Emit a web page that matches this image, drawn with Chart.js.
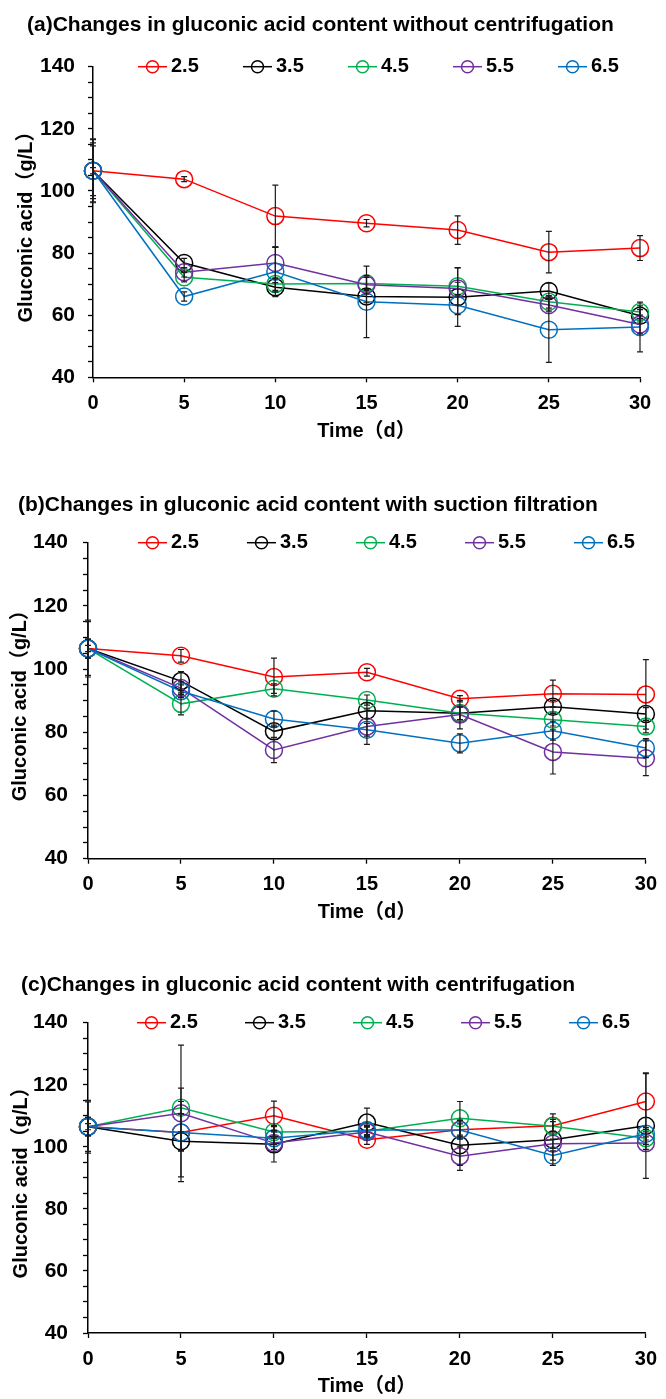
<!DOCTYPE html>
<html>
<head>
<meta charset="utf-8">
<script src="https://cdn.jsdelivr.net/npm/chart.js@4.4.1/dist/chart.umd.min.js"></script>
<style>
  html, body { margin: 0; padding: 0; background: #fff; width: 666px; height: 1399px; overflow: hidden; position: relative; }
  canvas { position: absolute; left: 0; }
  .ttl { position: absolute; font: bold 21px 'Liberation Sans', Arial, 'Noto Sans CJK SC', sans-serif; color: #000; white-space: nowrap; line-height: 24px; }
</style>
</head>
<body>
<canvas id="chart-a" width="666" height="460"></canvas>
<canvas id="chart-b" width="666" height="470"></canvas>
<canvas id="chart-c" width="666" height="470"></canvas>
<div class="ttl" style="left:27px;top:12px;">(a)Changes in gluconic acid content without centrifugation</div>
<div class="ttl" style="left:18px;top:492px;">(b)Changes in gluconic acid content with suction filtration</div>
<div class="ttl" style="left:21px;top:972px;">(c)Changes in gluconic acid content with centrifugation</div>
<script>
// ---- data ----
var days = [0, 5, 10, 15, 20, 25, 30];
var seriesLabels = ['2.5', '3.5', '4.5', '5.5', '6.5'];
var seriesColors = ['#ff0000', '#000000', '#00b050', '#7030a0', '#0070c0'];

// (a) without centrifugation
var a25 = [106.5, 103.8, 91.9, 89.6, 87.4, 80.3, 81.6];
var a35 = [106.5, 76.8, 69.0, 66.0, 65.8, 67.8, 59.8];
var a45 = [106.5, 72.2, 70.0, 70.2, 69.3, 64.3, 61.0];
var a55 = [106.5, 73.8, 76.8, 69.8, 68.6, 63.3, 57.0];
var a65 = [106.5, 66.0, 74.0, 64.3, 63.2, 55.3, 56.2];
var a25Err = [1, 0.8, 10, 1.2, 4.6, 6.7, 4];
var a35Err = [10, 1.5, 1.5, 2, 9.4, 2.5, 2];
var a45Err = [8, 1.5, 2, 2, 6, 2, 2];
var a55Err = [9, 1.5, 5, 3, 2, 2, 3];
var a65Err = [10.3, 1.5, 8, 11.5, 3, 10.5, 8];

// (b) suction filtration
var b25 = [106.5, 104.2, 97.5, 99.0, 90.6, 92.2, 92.0];
var b35 = [106.5, 96.2, 80.3, 86.8, 86.0, 88.1, 85.8];
var b45 = [106.5, 89.0, 93.8, 90.2, 86.0, 84.0, 81.8];
var b55 = [106.5, 94.0, 74.4, 81.8, 85.6, 73.8, 71.8];
var b65 = [106.5, 93.0, 84.2, 80.8, 76.5, 80.5, 75.0];
var b25Err = [1, 2, 6, 1.2, 1, 4.3, 11];
var b35Err = [8.5, 3, 2, 2.5, 2, 2, 2];
var b45Err = [3, 3.5, 1.5, 1.6, 2, 2, 2];
var b55Err = [3, 2, 4, 5.6, 4.5, 7, 5.5];
var b65Err = [9, 2, 2.5, 2, 3, 3, 3];

// (c) centrifugation
var c25 = [106.5, 104.6, 110.0, 102.3, 105.5, 106.8, 114.6];
var c35 = [106.5, 101.8, 100.8, 107.8, 100.5, 102.3, 106.8];
var c45 = [106.5, 112.6, 104.8, 105.0, 109.2, 106.6, 102.8];
var c55 = [106.5, 110.8, 101.2, 104.8, 97.0, 101.0, 101.2];
var c65 = [106.5, 104.6, 102.8, 105.4, 105.4, 97.2, 104.2];
var c25Err = [1, 14.3, 4.7, 1.5, 3, 2, 9];
var c35Err = [8.5, 3, 5.7, 4.7, 8.1, 8.3, 17];
var c45Err = [3, 2, 2, 1.5, 5.4, 1.5, 2];
var c55Err = [3, 22, 2, 1.5, 3, 1.5, 2];
var c65Err = [8, 6, 2, 1.5, 2, 1.5, 2];

var FONT = "'Liberation Sans', Arial, 'Noto Sans CJK SC', sans-serif";

// error bars drawn from the dataset values through the scales
var errorBars = {
  id: 'errorBars',
  afterDatasetsDraw: function (chart) {
    var ctx = chart.ctx, xs = chart.scales.x, ys = chart.scales.y;
    ctx.save();
    ctx.strokeStyle = '#1a1a1a';
    ctx.lineWidth = 1.2;
    chart.data.datasets.forEach(function (ds) {
      ds.errors.forEach(function (e, j) {
        var p = ds.data[j];
        var x = xs.getPixelForValue(p.x);
        var yt = ys.getPixelForValue(p.y + e);
        var yb = ys.getPixelForValue(p.y - e);
        ctx.beginPath();
        ctx.moveTo(x, yt); ctx.lineTo(x, yb);
        ctx.moveTo(x - 3, yt); ctx.lineTo(x + 3, yt);
        ctx.moveTo(x - 3, yb); ctx.lineTo(x + 3, yb);
        ctx.stroke();
      });
    });
    ctx.restore();
  }
};

// legend: line with open circle, level with the top of the plot
var lineLegend = {
  id: 'lineLegend',
  afterDraw: function (chart, args, opts) {
    var ctx = chart.ctx;
    var y = chart.chartArea.top;
    ctx.save();
    ctx.font = 'bold 20px ' + FONT;
    ctx.textBaseline = 'middle';
    chart.data.datasets.forEach(function (ds, i) {
      var x = opts.x + i * opts.step;
      ctx.strokeStyle = ds.borderColor;
      ctx.lineWidth = 1.5;
      ctx.beginPath(); ctx.moveTo(x, y); ctx.lineTo(x + 29, y); ctx.stroke();
      ctx.beginPath(); ctx.arc(x + 14.5, y, 6, 0, Math.PI * 2); ctx.stroke();
      ctx.fillStyle = '#000';
      ctx.fillText(ds.label, x + 33, y);
    });
    ctx.restore();
  }
};

function makeChart(id, series, errs, box) {
  var cv = document.getElementById(id);
  cv.style.top = box.top + 'px';
  var datasets = series.map(function (vals, i) {
    return {
      label: seriesLabels[i],
      data: days.map(function (d, j) { return { x: d, y: vals[j] }; }),
      errors: errs[i],
      borderColor: seriesColors[i],
      backgroundColor: 'rgba(0,0,0,0)',
      borderWidth: 1.5,
      pointRadius: 8.5,
      pointHoverRadius: 8.5,
      pointBorderWidth: 1.5,
      pointBorderColor: seriesColors[i],
      pointBackgroundColor: 'rgba(0,0,0,0)',
      tension: 0,
      clip: false,
      order: series.length - i
    };
  });

  return new Chart(cv.getContext('2d'), {
    type: 'line',
    data: { datasets: datasets },
    plugins: [errorBars, lineLegend],
    options: {
      responsive: false,
      animation: false,
      devicePixelRatio: 1,
      layout: {
        padding: {
          left: 0,
          top: box.plotTop - box.top,
          right: 666 - box.plotRight,
          bottom: box.top + cv.height - box.plotBottom - box.xAxisH
        }
      },
      plugins: {
        legend: { display: false },
        tooltip: { enabled: false },
        lineLegend: { x: box.legendX, step: box.legendStep }
      },
      scales: {
        x: {
          type: 'linear',
          min: 0, max: 30,
          ticks: { stepSize: 5, padding: 9, color: '#000', font: { family: FONT, size: 20, weight: 'bold' } },
          grid: { drawOnChartArea: false, tickLength: 5, tickColor: '#000', tickWidth: 1.3 },
          border: { color: '#000', width: 1.5 },
          title: { display: true, text: 'Time（d）', color: '#000', font: { family: FONT, size: 20, weight: 'bold' }, padding: { top: 4, bottom: 4 } },
          afterFit: function (s) { s.height = box.xAxisH; }
        },
        y: {
          min: 40, max: 140,
          ticks: {
            stepSize: 5, autoSkip: false, padding: box.yPad, color: '#000',
            font: { family: FONT, size: 21, weight: 'bold' },
            callback: function (v) { return v % 20 === 0 ? v : ''; }
          },
          grid: { drawOnChartArea: false, tickLength: 5, tickColor: '#000', tickWidth: 1.3 },
          border: { color: '#000', width: 1.5 },
          title: { display: true, text: 'Gluconic acid（g/L）', color: '#000', font: { family: FONT, size: 20, weight: 'bold' }, padding: { top: box.yTitlePad, bottom: 0 } },
          afterFit: function (s) { s.width = box.plotLeft; }
        }
      }
    }
  });
}

makeChart('chart-a', [a25, a35, a45, a55, a65], [a25Err, a35Err, a45Err, a55Err, a65Err],
  { top: 0, plotLeft: 93, plotRight: 640, plotTop: 66.7, plotBottom: 377.3, xAxisH: 70, yPad: 13, yTitlePad: 14, legendX: 138, legendStep: 105 });
makeChart('chart-b', [b25, b35, b45, b55, b65], [b25Err, b35Err, b45Err, b55Err, b65Err],
  { top: 460, plotLeft: 88, plotRight: 653, plotTop: 542.7, plotBottom: 858.7, xAxisH: 70, yPad: 15, yTitlePad: 8, legendX: 138, legendStep: 109 });
makeChart('chart-c', [c25, c35, c45, c55, c65], [c25Err, c35Err, c45Err, c55Err, c65Err],
  { top: 935, plotLeft: 88, plotRight: 647, plotTop: 1022.7, plotBottom: 1333, xAxisH: 69.7, yPad: 15, yTitlePad: 9, legendX: 137, legendStep: 108 });
</script>
</body>
</html>
